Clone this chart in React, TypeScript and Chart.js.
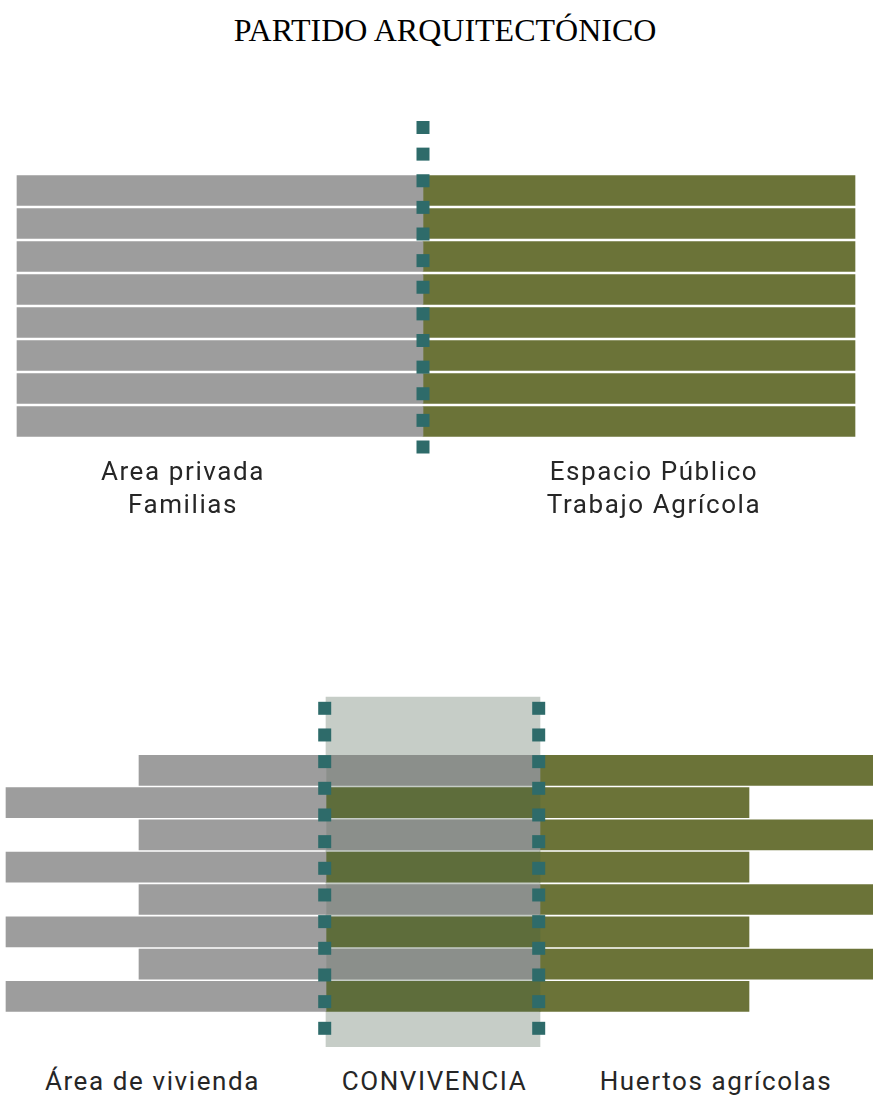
import React, { useEffect, useRef } from 'react';
import { Chart, registerables } from 'chart.js';

Chart.register(...registerables);

// ---------------- DATA ----------------
const TITLE = 'PARTIDO ARQUITECTÓNICO';

// Upper diagram: eight strips split between private and public use
const TOP_ROWS = [1, 2, 3, 4, 5, 6, 7, 8];
const TOP_PRIVATE: [number, number][] = [
  [17, 423], [17, 423], [17, 423], [17, 423],
  [17, 423], [17, 423], [17, 423], [17, 423],
];
const TOP_PUBLIC: [number, number][] = [
  [423, 855], [423, 855], [423, 855], [423, 855],
  [423, 855], [423, 855], [423, 855], [423, 855],
];
const TOP_DIVIDER_X = [423];
const TOP_MARKERS = [0, 1, 2, 3, 4, 5, 6, 7, 8, 9, 10, 11, 12];
const TOP_LABEL_LEFT = ['Area privada', 'Familias'];
const TOP_LABEL_RIGHT = ['Espacio Público', 'Trabajo Agrícola'];

// Lower diagram: housing, shared zone, agricultural gardens
const BOTTOM_ROWS = [1, 2, 3, 4, 5, 6, 7, 8];
const BOTTOM_HOUSING: [number, number][] = [
  [139, 326], [6, 326], [139, 326], [6, 326],
  [139, 326], [6, 326], [139, 326], [6, 326],
];
const BOTTOM_SHARED: [number, number][] = [
  [326, 540], [326, 540], [326, 540], [326, 540],
  [326, 540], [326, 540], [326, 540], [326, 540],
];
const BOTTOM_SHARED_KIND = ['vivienda', 'huerto', 'vivienda', 'huerto', 'vivienda', 'huerto', 'vivienda', 'huerto'];
const BOTTOM_GARDENS: [number, number][] = [
  [540, 873], [540, 749], [540, 873], [540, 749],
  [540, 873], [540, 749], [540, 873], [540, 749],
];
const BOTTOM_DIVIDER_X = [324.7, 538.7];
const BOTTOM_MARKERS = [0, 1, 2, 3, 4, 5, 6, 7, 8, 9, 10, 11, 12];
const SHARED_ZONE_X: [number, number] = [326, 540];
const SHARED_ZONE_Y: [number, number] = [-0.42, 12.69]; // in marker steps
const BOTTOM_LABELS = ['Área de vivienda', 'CONVIVENCIA', 'Huertos agrícolas'];

// ---------------- STYLE / LAYOUT ----------------
const W = 873;
const GRAY = '#9d9d9d';
const GREEN = '#6b7338';
const DARK_GRAY = '#8b8f8b';
const DARK_GREEN = '#5e6d3b';
const ZONE = '#c6cdc7';
const TEAL = '#2e6b6a';
const TEXT = '#262626';
const BAR_THICK = 30;
const MARKER_SIDE = 13;

interface Layout {
  canvasTop: number;
  canvasH: number;
  bandTop: number;
  rowPitch: number;
  markerFirst: number;
  markerPitch: number;
}

const TOP_LAYOUT: Layout = {
  canvasTop: 100, canvasH: 370, bandTop: 174, rowPitch: 33,
  markerFirst: 127.5, markerPitch: 26.625,
};
const BOTTOM_LAYOUT: Layout = {
  canvasTop: 680, canvasH: 380, bandTop: 754.15, rowPitch: 32.3,
  markerFirst: 708.3, markerPitch: 26.667,
};

function buildConfig(L: Layout, rows: number[], barSets: any[], dividerXs: number[], markers: number[], zone?: any): any {
  const top = L.canvasTop;
  const bottom = L.canvasTop + L.canvasH;
  // row axis: row r centred at bandTop + (r - 0.5) * rowPitch
  const yMin = (top - L.bandTop) / L.rowPitch + 0.5;
  const yMax = (bottom - L.bandTop) / L.rowPitch + 0.5;
  // marker axis: marker m centred at markerFirst + m * markerPitch
  const ysMin = (top - L.markerFirst) / L.markerPitch;
  const ysMax = (bottom - L.markerFirst) / L.markerPitch;

  const datasets: any[] = [];
  if (zone) {
    datasets.push({
      type: 'bar',
      indexAxis: 'y',
      data: [{ y: (zone.y[0] + zone.y[1]) / 2, x: zone.x }],
      xAxisID: 'x',
      yAxisID: 'ys',
      backgroundColor: ZONE,
      borderWidth: 0,
      barThickness: (zone.y[1] - zone.y[0]) * L.markerPitch,
      grouped: false,
      order: 10,
    });
  }
  barSets.forEach((s) => {
    datasets.push({
      type: 'bar',
      indexAxis: 'y',
      data: rows.map((r, i) => ({ y: r, x: s.data[i] })),
      xAxisID: 'x',
      yAxisID: 'y',
      backgroundColor: s.color,
      borderWidth: 0,
      barThickness: BAR_THICK,
      grouped: false,
      order: 5,
    });
  });
  datasets.push({
    type: 'scatter',
    indexAxis: 'x',
    data: dividerXs.flatMap((x) => markers.map((m) => ({ x, y: m }))),
    xAxisID: 'x',
    yAxisID: 'ys',
    pointStyle: 'rect',
    pointRadius: MARKER_SIDE / (2 * Math.SQRT1_2),
    pointHoverRadius: MARKER_SIDE / (2 * Math.SQRT1_2),
    backgroundColor: TEAL,
    borderWidth: 0,
    showLine: false,
    order: 0,
  });

  return {
    type: 'bar',
    data: { datasets },
    options: {
      indexAxis: 'y',
      animation: false,
      responsive: false,
      events: [],
      layout: { autoPadding: false, padding: 0 },
      plugins: { legend: { display: false }, tooltip: { enabled: false }, title: { display: false } },
      scales: {
        x: { type: 'linear', min: 0, max: W, display: false, offset: false },
        y: { type: 'linear', axis: 'y', min: yMin, max: yMax, reverse: true, display: false, offset: false },
        ys: { type: 'linear', axis: 'y', position: 'left', min: ysMin, max: ysMax, reverse: true, display: false, offset: false },
      },
    },
  };
}

function DiagramCanvas({ layout, config }: { layout: Layout; config: any }) {
  const ref = useRef<HTMLCanvasElement>(null);
  useEffect(() => {
    if (!ref.current) return;
    const chart = new Chart(ref.current, config);
    return () => chart.destroy();
  }, []);
  return (
    <canvas
      ref={ref}
      width={W}
      height={layout.canvasH}
      style={{ position: 'absolute', left: 0, top: layout.canvasTop, width: W, height: layout.canvasH, display: 'block' }}
    />
  );
}

const labelFont: React.CSSProperties = {
  position: 'absolute',
  fontFamily: 'Roboto, "Noto Sans", sans-serif',
  fontSize: 26,
  fontWeight: 400,
  lineHeight: '33px',
  letterSpacing: '1.6px',
  color: TEXT,
  textAlign: 'center',
  whiteSpace: 'nowrap',
  width: 400,
};

function Label({ cx, top, lines }: { cx: number; top: number; lines: string[] }) {
  return (
    <div style={{ ...labelFont, left: cx - 200, top }}>
      {lines.map((l, i) => (
        <div key={i}>{l}</div>
      ))}
    </div>
  );
}

export default function App() {
  const topConfig = buildConfig(
    TOP_LAYOUT,
    TOP_ROWS,
    [
      { data: TOP_PRIVATE, color: GRAY },
      { data: TOP_PUBLIC, color: GREEN },
    ],
    TOP_DIVIDER_X,
    TOP_MARKERS,
  );
  const bottomConfig = buildConfig(
    BOTTOM_LAYOUT,
    BOTTOM_ROWS,
    [
      { data: BOTTOM_HOUSING, color: GRAY },
      { data: BOTTOM_SHARED, color: BOTTOM_SHARED_KIND.map((k) => (k === 'vivienda' ? DARK_GRAY : DARK_GREEN)) },
      { data: BOTTOM_GARDENS, color: GREEN },
    ],
    BOTTOM_DIVIDER_X,
    BOTTOM_MARKERS,
    { x: SHARED_ZONE_X, y: SHARED_ZONE_Y },
  );

  return (
    <div style={{ position: 'absolute', left: 0, top: 0, width: W, height: 1099, background: '#ffffff', overflow: 'hidden' }}>
      <div
        style={{
          position: 'absolute',
          left: 445 - 300,
          width: 600,
          top: 10,
          textAlign: 'center',
          fontFamily: '"Liberation Serif", "Times New Roman", serif',
          fontSize: 32,
          lineHeight: '40px',
          color: '#000',
          whiteSpace: 'nowrap',
        }}
      >
        {TITLE}
      </div>
      <DiagramCanvas layout={TOP_LAYOUT} config={topConfig} />
      <Label cx={183} top={455} lines={TOP_LABEL_LEFT} />
      <Label cx={654} top={455} lines={TOP_LABEL_RIGHT} />
      <DiagramCanvas layout={BOTTOM_LAYOUT} config={bottomConfig} />
      <Label cx={152.5} top={1065} lines={[BOTTOM_LABELS[0]]} />
      <Label cx={434.5} top={1065} lines={[BOTTOM_LABELS[1]]} />
      <Label cx={716} top={1065} lines={[BOTTOM_LABELS[2]]} />
    </div>
  );
}
